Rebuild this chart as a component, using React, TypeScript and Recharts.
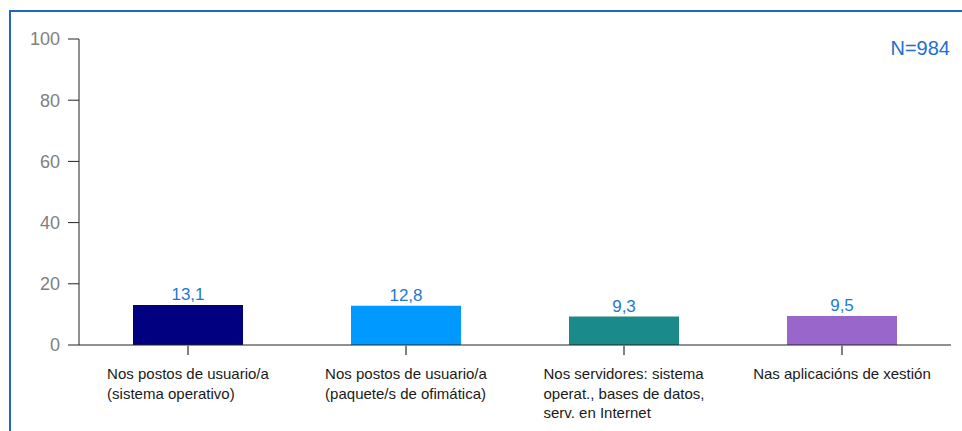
import { BarChart, Bar, XAxis, YAxis, Cell, LabelList } from 'recharts';

const categories = [
  'Nos postos de usuario/a (sistema operativo)',
  'Nos postos de usuario/a (paquete/s de ofimática)',
  'Nos servidores: sistema operat., bases de datos, serv. en Internet',
  'Nas aplicacións de xestión',
];
const labelLines = [
  ['Nos postos de usuario/a', '(sistema operativo)'],
  ['Nos postos de usuario/a', '(paquete/s de ofimática)'],
  ['Nos servidores: sistema', 'operat., bases de datos,', 'serv. en Internet'],
  ['Nas aplicacións de xestión'],
];
const values = [13.1, 12.8, 9.3, 9.5];
const barColors = ['#000080', '#0099FF', '#1A8A8A', '#9966CC'];
const yTicks = [0, 20, 40, 60, 80, 100];

const data = categories.map((name, i) => ({ name, value: values[i] }));

const FONT = '"Liberation Sans", Arial, sans-serif';

function textWidth(s: string, size: number) {
  const c = document.createElement('canvas').getContext('2d');
  if (!c) return s.length * size * 0.5;
  c.font = `${size}px "Liberation Sans", Arial`;
  return c.measureText(s).width;
}

function CategoryTick(props: any) {
  const { x, y, index } = props;
  const lines = labelLines[index] || [];
  const w = Math.max(...lines.map((l) => textWidth(l, 15)));
  return (
    <g>
      {lines.map((l, i) => (
        <text
          key={i}
          x={x - w / 2}
          y={y + 22 + i * 19.5}
          textAnchor="start"
          fontSize={15}
          fontFamily={FONT}
          fill="#1a1a1a"
        >
          {l}
        </text>
      ))}
    </g>
  );
}

export default function App() {
  return (
    <div style={{ position: 'absolute', left: 0, top: 0, width: 962, height: 431, overflow: 'hidden', background: '#fff' }}>
      <div
        style={{
          position: 'absolute',
          left: 9,
          top: 10,
          width: 1000,
          height: 1000,
          borderTop: '2px solid #1f68bd',
          borderLeft: '2px solid #1f68bd',
        }}
      />
      <div style={{ position: 'absolute', left: 0, top: 0 }}>
        <BarChart
          width={962}
          height={431}
          data={data}
          margin={{ top: 39, right: 11, left: 0, bottom: 0 }}
        >
          <XAxis
            dataKey="name"
            height={86}
            tickSize={10}
            tickMargin={2}
            axisLine={{ stroke: '#222' }}
            tickLine={{ stroke: '#808080', strokeWidth: 2 }}
            tick={<CategoryTick />}
            interval={0}
          />
          <YAxis
            width={79}
            domain={[0, 100]}
            ticks={yTicks}
            tickSize={11}
            tickMargin={8}
            axisLine={{ stroke: '#222' }}
            tickLine={{ stroke: '#222' }}
            tick={{ fill: '#808080', fontSize: 18, fontFamily: FONT }}
          />
          <Bar dataKey="value" barSize={110} isAnimationActive={false}>
            {data.map((d, i) => (
              <Cell key={d.name} fill={barColors[i]} />
            ))}
            <LabelList
              dataKey="value"
              position="top"
              offset={5}
              formatter={(v: any) => String(v).replace('.', ',')}
              style={{ fill: '#1E78D2', fontSize: 17, fontFamily: FONT }}
            />
          </Bar>
          <text x={950} y={55} textAnchor="end" fontSize={20} fontFamily={FONT} fill="#1E6FCC">
            N=984
          </text>
        </BarChart>
      </div>
    </div>
  );
}
